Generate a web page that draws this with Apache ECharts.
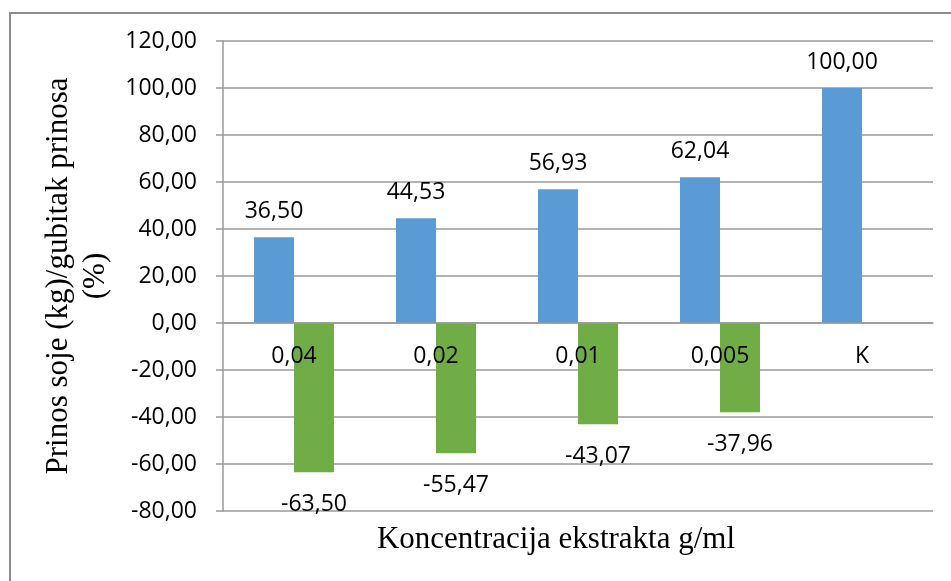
<!DOCTYPE html>
<html>
<head>
<meta charset="utf-8">
<script src="https://cdn.jsdelivr.net/npm/echarts@6/dist/echarts.min.js"></script>
<style>
  html, body { margin: 0; padding: 0; background: #fff; }
  #chart { width: 951px; height: 581px; }
</style>
</head>
<body>
<div id="chart"></div>
<script>
// koncentracija ekstrakta (g/ml)
const categories = ['0,04', '0,02', '0,01', '0,005', 'K']
// prinos soje (%)
const yieldValues = [36.50, 44.53, 56.93, 62.04, 100.00]
// gubitak prinosa (%)
const lossValues = [-63.50, -55.47, -43.07, -37.96, null]

const yMin = -80
const yMax = 120
const gridTop = 41
const gridBottom = 70
const plotHeight = 581 - gridTop - gridBottom

const labelFont = 'Open Sans'
const fmt = v => Number(v).toFixed(2).replace('.', ',')

const chart = echarts.init(document.getElementById('chart'))

chart.setOption({
  animation: false,
  backgroundColor: '#fff',
  graphic: [{
    type: 'rect',
    shape: { x: 10, y: 13, width: 1000, height: 1000 },
    style: { fill: 'none', stroke: '#8c8c8c', lineWidth: 2 },
    silent: true
  }, {
    type: 'text',
    x: 556,
    y: 524,
    style: {
      text: 'Koncentracija ekstrakta g/ml',
      font: '31px "Liberation Serif"',
      fill: '#000',
      textAlign: 'center',
      textVerticalAlign: 'top'
    }
  }],
  grid: {
    left: 223,
    right: 18,
    top: gridTop,
    bottom: gridBottom
  },
  xAxis: {
    type: 'category',
    data: categories,
    position: 'bottom',
    z: 5, // labels drawn over the bars
    // category axis sits on the zero line
    offset: -plotHeight * (0 - yMin) / (yMax - yMin),
    axisLine: { onZero: false, lineStyle: { color: '#9a9a9a', width: 1.5 } },
    axisTick: { show: false },
    axisLabel: {
      color: '#000',
      fontFamily: labelFont,
      fontSize: 23,
      margin: 22
    },
    splitLine: { show: false }
  },
  yAxis: {
    type: 'value',
    min: yMin,
    max: yMax,
    interval: 20,
    name: 'Prinos soje (kg)/gubitak prinosa\n(%)',
    nameLocation: 'middle',
    nameRotate: 90,
    nameGap: 105,
    nameTextStyle: {
      color: '#000',
      fontFamily: 'Liberation Serif',
      fontSize: 31,
      lineHeight: 37
    },
    axisLine: { show: true, lineStyle: { color: '#9a9a9a', width: 1.5 } },
    axisTick: { show: true, length: 7, lineStyle: { color: '#9a9a9a', width: 1.5 } },
    axisLabel: {
      color: '#000',
      fontFamily: labelFont,
      fontSize: 23,
      margin: 26,
      formatter: fmt
    },
    splitLine: { lineStyle: { color: '#9a9a9a', width: 1.5 } }
  },
  series: [{
    name: 'Prinos',
    type: 'bar',
    data: yieldValues,
    barWidth: 40,
    barGap: '0%',
    itemStyle: { color: '#5b9bd5' },
    label: {
      show: true,
      position: 'top',
      distance: 14,
      color: '#000',
      fontFamily: labelFont,
      fontSize: 23,
      formatter: p => fmt(p.value)
    }
  }, {
    name: 'Gubitak',
    type: 'bar',
    data: lossValues,
    barWidth: 40,
    barGap: '0%',
    itemStyle: { color: '#70ad47' },
    label: {
      show: true,
      position: 'bottom',
      distance: 21,
      color: '#000',
      fontFamily: labelFont,
      fontSize: 23,
      formatter: p => fmt(p.value)
    }
  }]
})
</script>
</body>
</html>
